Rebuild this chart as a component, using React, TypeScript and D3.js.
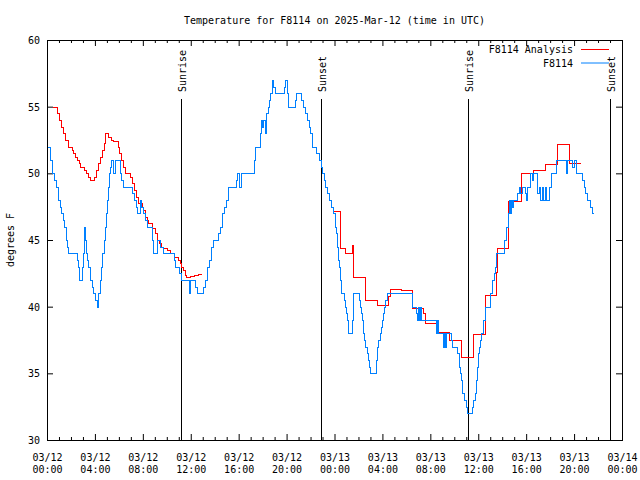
import React from "react";
import * as d3 from "d3";

// ---- data (minutes since 2025-03-12 00:00 UTC, temperature °F) ----
const obsSeries: [number, number][] = [
  [5,52],[15,51],[25,50],[35,49.5],[45,49],[55,48],[65,47.5],[70,47],[80,46.5],[85,46],[95,45],[100,44.5],[105,44],
  [150,43.5],[155,43],[160,42],[175,43],[180,44],[185,46],[190,45],[195,44],[200,43.5],[205,43],[215,42],[225,41.5],
  [230,41],[240,40.5],[250,40],[255,41],[265,42],[270,43],[275,44],[285,45],[290,46],[295,47],[300,48],[305,49],
  [310,50],[315,50.5],[320,51],[330,50],[340,51],[365,50],[370,49.5],[380,49],[425,48.5],[435,48],[445,47.5],
  [450,47],[460,47],[465,48],[470,47.5],[480,47],[490,46.5],[500,46],[525,45],[530,44],[550,45],[565,44.5],[580,44],
  [635,43.5],[640,43],[660,42.5],[670,42],[710,41],[715,42],[740,41.5],[750,41],[780,41.5],[790,42],[800,43],
  [810,43.5],[820,44.5],[830,45],[855,45.5],[865,46],[875,47],[885,47.5],[895,48],[905,49],[945,49.5],[950,50],
  [960,49],[970,50],[1035,51],[1040,52],[1065,53],[1070,54],[1075,53.5],[1080,54],[1090,53],[1095,54.5],[1105,55],
  [1110,55.5],[1115,56],[1125,57],[1130,56.5],[1140,56],[1185,56.5],[1190,57],[1200,56],[1205,55],[1240,55.5],
  [1245,56],[1270,55.5],[1280,55],[1290,54.5],[1300,54],[1310,53.5],[1315,53],[1325,52],[1345,51.5],[1360,51],
  [1370,50.5],[1375,50],[1385,49.5],[1390,49],[1400,48.5],[1410,48],[1420,47.5],[1430,47],[1440,46.5],[1445,46],
  [1450,45.5],[1455,44.5],[1460,43.5],[1465,43],[1470,42],[1475,41],[1490,40.5],[1495,40],[1500,39.5],[1505,39],
  [1510,38],[1530,39],[1535,41],[1565,40.5],[1570,40],[1575,39.5],[1580,39],[1585,38],[1590,37.5],[1595,37],
  [1605,36.5],[1610,36],[1615,35.5],[1620,35],[1650,36],[1655,37],[1660,37.5],[1670,38],[1675,38.5],[1680,39],
  [1685,39.5],[1690,40],[1695,40.5],[1705,41],[1830,40],[1850,39.5],[1855,39],[1860,40],[1865,39],[1870,40],
  [1875,39],[1950,38],[1955,39],[1960,38],[1985,37],[1990,38],[1995,37],[2000,38],[2025,37.5],[2030,37],
  [2055,36.5],[2065,35.5],[2070,35],[2075,34.5],[2080,33.5],[2090,33],[2100,32.5],[2105,32],[2130,32.5],[2135,33],
  [2145,33.5],[2150,34.5],[2155,35.5],[2160,36.5],[2165,37],[2170,37.5],[2175,38],[2185,39],[2195,40],[2220,41],
  [2230,42],[2240,42.5],[2245,43],[2250,44],[2290,45],[2300,46],[2310,47],[2315,48],[2320,47],[2325,48],[2330,47.5],
  [2335,48],[2355,48.5],[2365,49],[2370,48.5],[2380,49],[2395,48.5],[2400,48],[2405,49],[2420,50],[2430,49.5],
  [2435,50],[2455,48.5],[2465,49],[2470,48],[2480,49],[2485,48],[2495,49],[2500,48],[2515,49],[2525,50],[2550,51],
  [2600,50],[2605,51],[2630,50.5],[2640,51],[2650,50],[2675,50],[2680,49.5],[2690,49],[2695,48.5],[2705,48],
  [2720,47.5],[2730,47],[2735,47],
];

const anaSeries: [number, number | null][] = [
  [30,55],[50,54.5],[60,54],[70,53.5],[80,53],[90,52.5],[105,52],[125,51.75],[130,51.5],[140,51.25],[150,51],
  [160,50.75],[165,50.5],[185,50.25],[195,50],[205,49.75],[215,49.5],[235,49.75],[245,50.25],[255,50.75],
  [265,51.25],[275,51.75],[285,52.25],[290,53],[305,52.75],[320,52.5],[330,52.4],[355,52],[360,51.5],[370,51],
  [380,50.5],[390,50],[415,49.75],[425,49.25],[435,48.75],[445,48.25],[455,47.75],[475,47.5],[480,47.25],
  [490,46.75],[500,46.5],[505,46.25],[525,45.9],[540,45.5],[550,45],[560,44.75],[570,44.5],[580,44.4],[600,44.25],
  [615,44],[635,43.75],[655,43.5],[665,43.25],[670,43],[680,42.75],[690,42.4],[695,42.25],[715,42.3],[735,42.4],
  [755,42.45],[775,42.45],[776,null],
  [1435,47.2],[1470,44.4],[1495,44],[1530,44.6],[1533,42.2],[1595,40.5],[1655,40.1],[1710,40.8],[1718,41.3],
  [1775,41.25],[1830,39.9],[1885,39.5],[1895,38.75],[1950,38.1],[2012,37.5],[2075,36.25],[2135,37.95],
  [2195,40.9],[2248,42.6],[2252,44.4],[2310,47.9],[2375,50],[2435,50.25],[2495,50.7],[2555,52.2],[2615,50.8],
  [2670,50.8],
];

const sunEventMinutes = [670, 1370, 2105, 2815];
const sunEventLabels = ["Sunrise", "Sunset", "Sunrise", "Sunset"];

const yTicks = [30, 35, 40, 45, 50, 55, 60];
const xTickHours = [0, 4, 8, 12, 16, 20, 24, 28, 32, 36, 40, 44, 48];

const titleText = "Temperature for F8114 on 2025-Mar-12 (time in UTC)";
const yLabel = "degrees F";
const legendNames = ["F8114 Analysis", "F8114"];
const legendColors = ["#ff0000", "#0080ff"];

const START = Date.UTC(2025, 2, 12, 0, 0);
const toDate = (m: number) => new Date(START + m * 60000);

export default function App() {
  const W = 640, H = 480;
  const L = 47, R = 622, T = 40, B = 440;
  const font = "'DejaVu Sans Mono', 'Liberation Mono', monospace";

  const x = d3.scaleUtc().domain([toDate(0), toDate(48 * 60)]).range([L + 0.5, R + 0.5]);
  const y = d3.scaleLinear().domain([30, 60]).range([B + 0.5, T + 0.5]);

  const obsLine = d3
    .line<[number, number]>()
    .x((d) => x(toDate(d[0])))
    .y((d) => y(d[1]))
    .curve(d3.curveStepAfter);

  const anaLine = d3
    .line<[number, number | null]>()
    .defined((d) => d[1] != null)
    .x((d) => x(toDate(d[0])))
    .y((d) => y(d[1] as number))
    .curve(d3.curveStepAfter);

  const fmtDate = d3.utcFormat("%m/%d");
  const fmtTime = d3.utcFormat("%H:%M");
  const minorHours = d3.range(0, 49).filter((h) => h % 4 !== 0);

  return (
    <svg width={W} height={H} style={{ display: "block", position: "absolute", left: 0, top: 0 }}>
      <rect x={0} y={0} width={W} height={H} fill="#fff" />
      <text x={(L + R) / 2} y={24} textAnchor="middle" fontFamily={font} fontSize={10} fill="#000">
        {titleText}
      </text>
      <text
        transform={`translate(14,${(T + B) / 2}) rotate(-90)`}
        textAnchor="middle"
        fontFamily={font}
        fontSize={10}
        fill="#000"
      >
        {yLabel}
      </text>

      {/* y ticks */}
      {yTicks.map((v) => (
        <g key={"y" + v}>
          <line x1={L} x2={L + 6} y1={y(v)} y2={y(v)} stroke="#000" />
          <line x1={R - 6} x2={R} y1={y(v)} y2={y(v)} stroke="#000" />
          <text x={40} y={y(v) + 3.5} textAnchor="end" fontFamily={font} fontSize={10} fill="#000">
            {v}
          </text>
        </g>
      ))}

      {/* x ticks */}
      {minorHours.map((h) => {
        const px = x(toDate(h * 60));
        return (
          <g key={"m" + h}>
            <line x1={px} x2={px} y1={B} y2={B - 3} stroke="#000" />
            <line x1={px} x2={px} y1={T} y2={T + 3} stroke="#000" />
          </g>
        );
      })}
      {xTickHours.map((h) => {
        const d = toDate(h * 60);
        const px = x(d);
        return (
          <g key={"x" + h}>
            <line x1={px} x2={px} y1={B} y2={B - 6} stroke="#000" />
            <line x1={px} x2={px} y1={T} y2={T + 6} stroke="#000" />
            <text x={px} y={461} textAnchor="middle" fontFamily={font} fontSize={10} fill="#000">
              {fmtDate(d)}
            </text>
            <text x={px} y={473} textAnchor="middle" fontFamily={font} fontSize={10} fill="#000">
              {fmtTime(d)}
            </text>
          </g>
        );
      })}

      {/* sunrise / sunset markers */}
      {sunEventMinutes.map((m, i) => {
        const px = Math.round(x(toDate(m))) + 0.5;
        return (
          <g key={"s" + i}>
            <line x1={px} x2={px} y1={B} y2={99} stroke="#000" strokeWidth={1} />
            <text
              transform={`translate(${px + 4},92) rotate(-90)`}
              textAnchor="start"
              fontFamily={font}
              fontSize={10}
              fill="#000"
            >
              {sunEventLabels[i]}
            </text>
          </g>
        );
      })}

      {/* series */}
      <path d={anaLine(anaSeries) || ""} fill="none" stroke={legendColors[0]} strokeWidth={1} shapeRendering="crispEdges" />
      <path d={obsLine(obsSeries) || ""} fill="none" stroke={legendColors[1]} strokeWidth={1} shapeRendering="crispEdges" />

      {/* legend */}
      {legendNames.map((n, i) => (
        <g key={"l" + i}>
          <text x={573} y={53 + i * 13.5} textAnchor="end" fontFamily={font} fontSize={10} fill="#000">
            {n}
          </text>
          <line x1={581} x2={609} y1={49.5 + i * 13.5} y2={49.5 + i * 13.5} stroke={legendColors[i]} />
        </g>
      ))}

      {/* frame */}
      <rect x={L + 0.5} y={T + 0.5} width={R - L} height={B - T} fill="none" stroke="#000" />
    </svg>
  );
}
